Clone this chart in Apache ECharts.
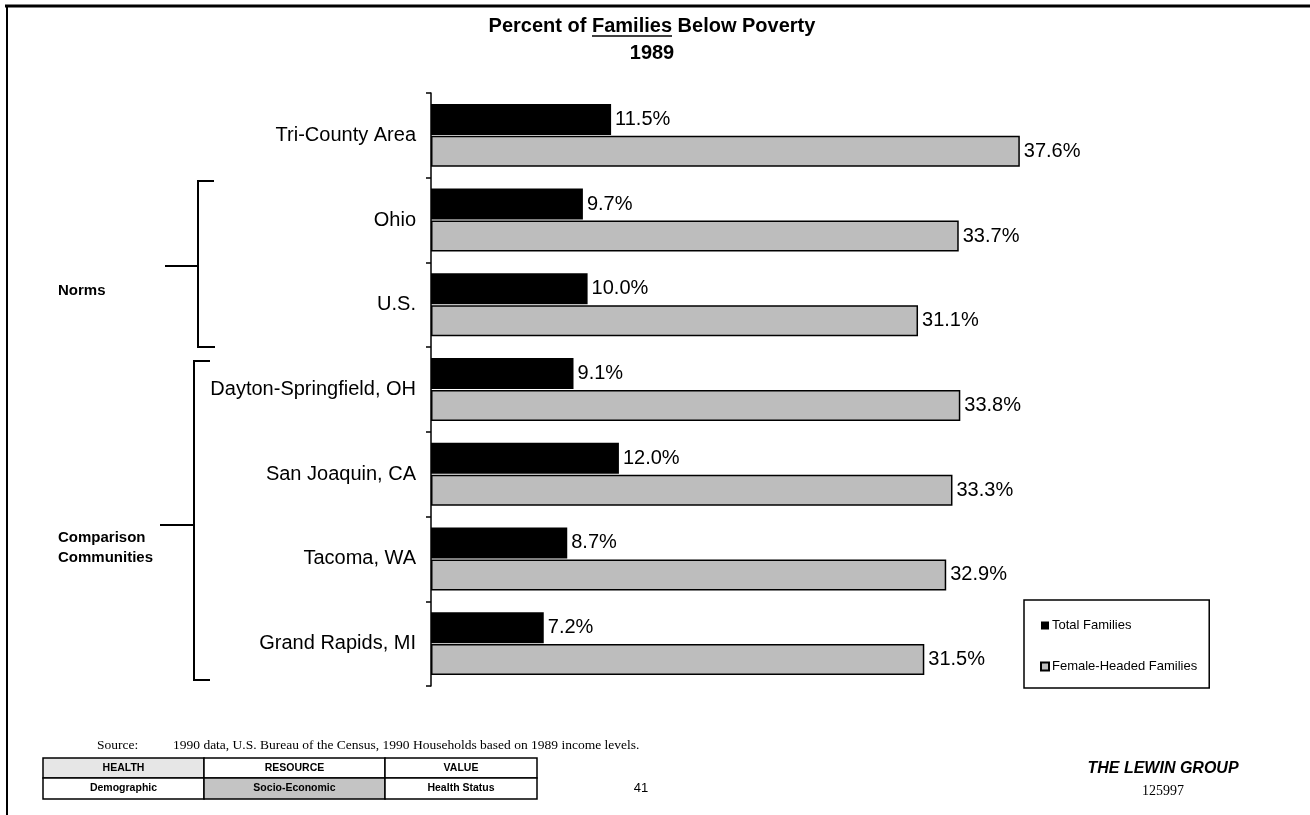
<!DOCTYPE html>
<html>
<head>
<meta charset="utf-8">
<script src="https://cdn.jsdelivr.net/npm/echarts@6/dist/echarts.min.js"></script>
<style>
html,body{margin:0;padding:0;background:#fff;}
#chart{width:1310px;height:815px;}
</style>
</head>
<body>
<div id="chart"></div>
<script>
const categories = ['Tri-County Area', 'Ohio', 'U.S.', 'Dayton-Springfield, OH', 'San Joaquin, CA', 'Tacoma, WA', 'Grand Rapids, MI'];
const totalFamilies = [11.5, 9.7, 10.0, 9.1, 12.0, 8.7, 7.2];
const femaleHeaded = [37.6, 33.7, 31.1, 33.8, 33.3, 32.9, 31.5];
const seriesNames = ['Total Families', 'Female-Headed Families'];
const footerRow1 = ['HEALTH', 'RESOURCE', 'VALUE'];
const footerRow2 = ['Demographic', 'Socio-Economic', 'Health Status'];

const chart = echarts.init(document.getElementById('chart'), null, {renderer: 'canvas'});
const sans = 'Liberation Sans, Arial, Helvetica, sans-serif';
const serif = 'Liberation Serif, Times New Roman, serif';

const colX = [43, 204, 385, 537];
const rowY = [758, 778, 799];
const cellFill = [['#e6e6e6', '#ffffff', '#ffffff'], ['#ffffff', '#c4c4c4', '#ffffff']];
const footerGraphics = [];
[footerRow1, footerRow2].forEach((row, r) => {
  row.forEach((txt, c) => {
    footerGraphics.push({
      type: 'rect',
      shape: {x: colX[c], y: rowY[r], width: colX[c + 1] - colX[c], height: rowY[r + 1] - rowY[r]},
      style: {fill: cellFill[r][c], stroke: '#000', lineWidth: 1.5}
    });
    footerGraphics.push({
      type: 'text',
      x: (colX[c] + colX[c + 1]) / 2,
      y: (rowY[r] + rowY[r + 1]) / 2,
      style: {text: txt, font: 'bold 10.5px ' + sans, fill: '#000', align: 'center', verticalAlign: 'middle'}
    });
  });
});

const option = {
  backgroundColor: '#ffffff',
  animation: false,
  title: [
    {text: 'Percent of Families Below Poverty', left: 652, textAlign: 'center', top: 16, padding: 0,
     textStyle: {fontFamily: sans, fontSize: 20, fontWeight: 'bold', color: '#000'}},
    {text: '1989', left: 652, textAlign: 'center', top: 43, padding: 0,
     textStyle: {fontFamily: sans, fontSize: 20, fontWeight: 'bold', color: '#000'}}
  ],
  legend: {
    orient: 'vertical',
    left: 1024,
    top: 600,
    padding: [19, 12, 15, 16],
    itemGap: 28,
    itemWidth: 8,
    itemHeight: 8,
    icon: 'rect',
    borderColor: '#000',
    borderWidth: 1.5,
    borderRadius: 0,
    textStyle: {fontFamily: sans, fontSize: 13, color: '#000', padding: [0, 0, 0, -2]},
    data: seriesNames
  },
  grid: {left: 431, top: 93, width: 626.4, height: 593, containLabel: false},
  xAxis: {type: 'value', min: 0, max: 40, show: false},
  yAxis: {
    type: 'category',
    data: categories,
    inverse: true,
    axisLine: {show: true, lineStyle: {color: '#000', width: 1.5}},
    axisTick: {show: true, length: 5, lineStyle: {color: '#000', width: 1.5}},
    axisLabel: {fontFamily: sans, fontSize: 20, color: '#000', margin: 15},
    splitLine: {show: false}
  },
  series: [
    {
      name: seriesNames[0],
      type: 'bar',
      data: totalFamilies,
      barWidth: 31,
      barGap: '3%',
      itemStyle: {color: '#000000'},
      label: {show: true, position: 'right', distance: 4, fontFamily: sans, fontSize: 20, color: '#000',
              formatter: p => p.value.toFixed(1) + '%'}
    },
    {
      name: seriesNames[1],
      type: 'bar',
      data: femaleHeaded,
      barWidth: 31,
      barGap: '3%',
      itemStyle: {color: '#bdbdbd', borderColor: '#000', borderWidth: 1.5},
      label: {show: true, position: 'right', distance: 4, fontFamily: sans, fontSize: 20, color: '#000',
              formatter: p => p.value.toFixed(1) + '%'}
    }
  ],
  graphic: [
    {type: 'line', shape: {x1: 5, y1: 6, x2: 1310, y2: 6}, style: {stroke: '#000', lineWidth: 3}},
    {type: 'line', shape: {x1: 7, y1: 5, x2: 7, y2: 815}, style: {stroke: '#000', lineWidth: 2}},
    {type: 'line', shape: {x1: 592, y1: 36, x2: 672, y2: 36}, style: {stroke: '#000', lineWidth: 1.5}},
    {type: 'polyline', shape: {points: [[214, 181], [198, 181], [198, 347], [215, 347]]}, style: {stroke: '#000', lineWidth: 2, fill: null}},
    {type: 'line', shape: {x1: 165, y1: 266, x2: 198, y2: 266}, style: {stroke: '#000', lineWidth: 2}},
    {type: 'polyline', shape: {points: [[210, 361], [194, 361], [194, 680], [210, 680]]}, style: {stroke: '#000', lineWidth: 2, fill: null}},
    {type: 'line', shape: {x1: 160, y1: 525, x2: 194, y2: 525}, style: {stroke: '#000', lineWidth: 2}},
    {type: 'text', x: 58, y: 291, style: {text: 'Norms', font: 'bold 15px ' + sans, fill: '#000', verticalAlign: 'middle'}},
    {type: 'text', x: 58, y: 538, style: {text: 'Comparison', font: 'bold 15px ' + sans, fill: '#000', verticalAlign: 'middle'}},
    {type: 'text', x: 58, y: 558, style: {text: 'Communities', font: 'bold 15px ' + sans, fill: '#000', verticalAlign: 'middle'}},
    {type: 'text', x: 97, y: 745, style: {text: 'Source:', font: '13.5px ' + serif, fill: '#000', verticalAlign: 'middle'}},
    {type: 'text', x: 173, y: 745, style: {text: '1990 data, U.S. Bureau of the Census, 1990 Households based on 1989 income levels.', font: '13.5px ' + serif, fill: '#000', verticalAlign: 'middle'}},
    {type: 'text', x: 641, y: 788, style: {text: '41', font: '13px ' + sans, fill: '#000', align: 'center', verticalAlign: 'middle'}},
    {type: 'text', x: 1163, y: 769, style: {text: 'THE LEWIN GROUP', font: 'italic bold 16px ' + sans, fill: '#000', align: 'center', verticalAlign: 'middle'}},
    {type: 'text', x: 1163, y: 791, style: {text: '125997', font: '14px ' + serif, fill: '#000', align: 'center', verticalAlign: 'middle'}}
  ].concat(footerGraphics)
};
chart.setOption(option);
</script>
</body>
</html>
